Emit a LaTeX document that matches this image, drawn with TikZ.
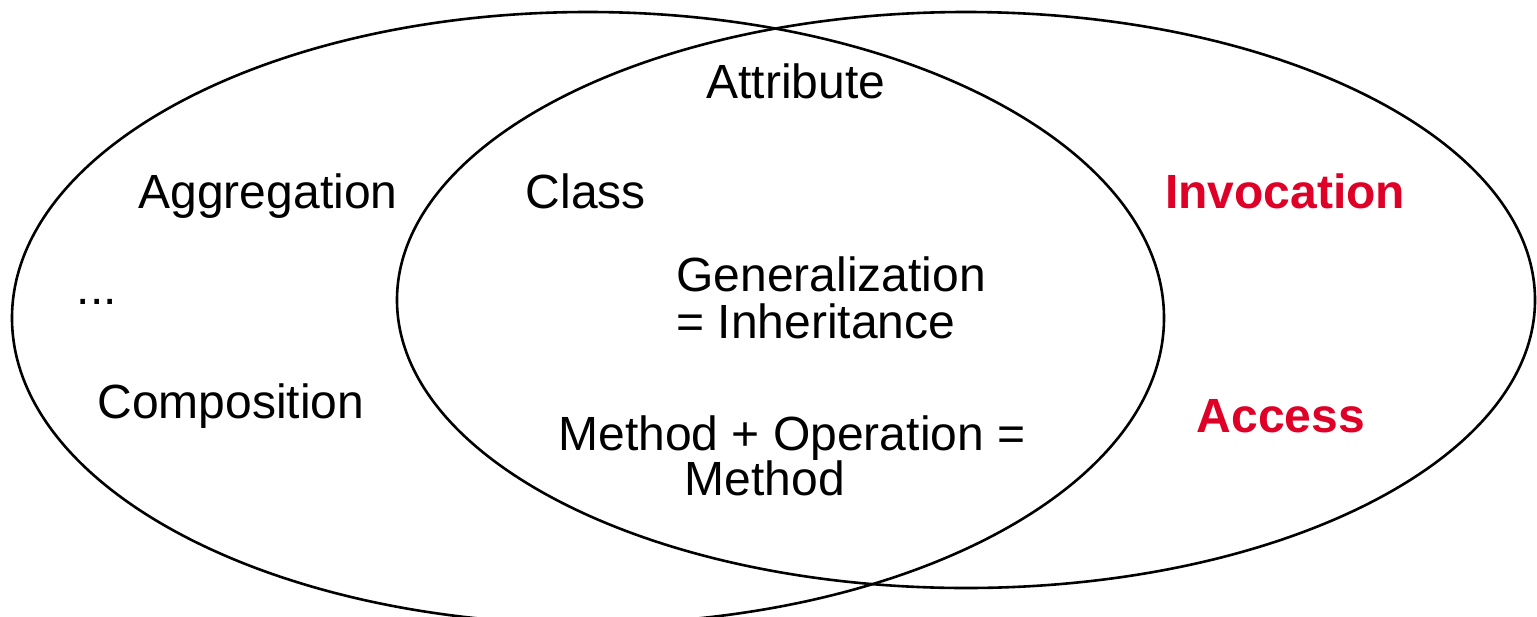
\documentclass[tikz,border=0pt]{standalone}
\usepackage{fontspec}
\setmainfont{Liberation Sans}
\definecolor{accentred}{RGB}{222,0,38}
\begin{document}
\begin{tikzpicture}[x=0.5pt,y=-0.5pt,
  label/.style={inner sep=0pt,anchor=base,font=\fontsize{24}{28}\selectfont},
  hot/.style={label,text=accentred,font=\fontsize{24}{28}\selectfont\bfseries},
  set/.style={draw=black,line width=1.3pt}]
  \useasboundingbox (0,0) rectangle (1537,616);
  % the two overlapping sets
  \draw[set] (588,318) ellipse [x radius=576, y radius=306];
  \draw[set] (966,300) ellipse [x radius=569, y radius=288];
  % left-only terms
  \node[label] (aggr) at (268,208) {Aggregation};
  \node[label] (dots) at (97,304) {...};
  \node[label] (comp) at (231,418) {Composition};
  % shared terms
  \node[label] (attr) at (796,98) {Attribute};
  \node[label] (cls) at (586,208) {Class};
  \node[label,anchor=base west] (gen) at (676,291) {Generalization};
  \node[label,anchor=base west] (inh) at (676,338) {= Inheritance};
  \node[label] (mop) at (792,450) {Method + Operation =};
  \node[label] (meth) at (765,495) {Method};
  % right-only terms
  \node[hot] (inv) at (1285,208) {Invocation};
  \node[hot] (acc) at (1281,432) {Access};
\end{tikzpicture}
\end{document}
